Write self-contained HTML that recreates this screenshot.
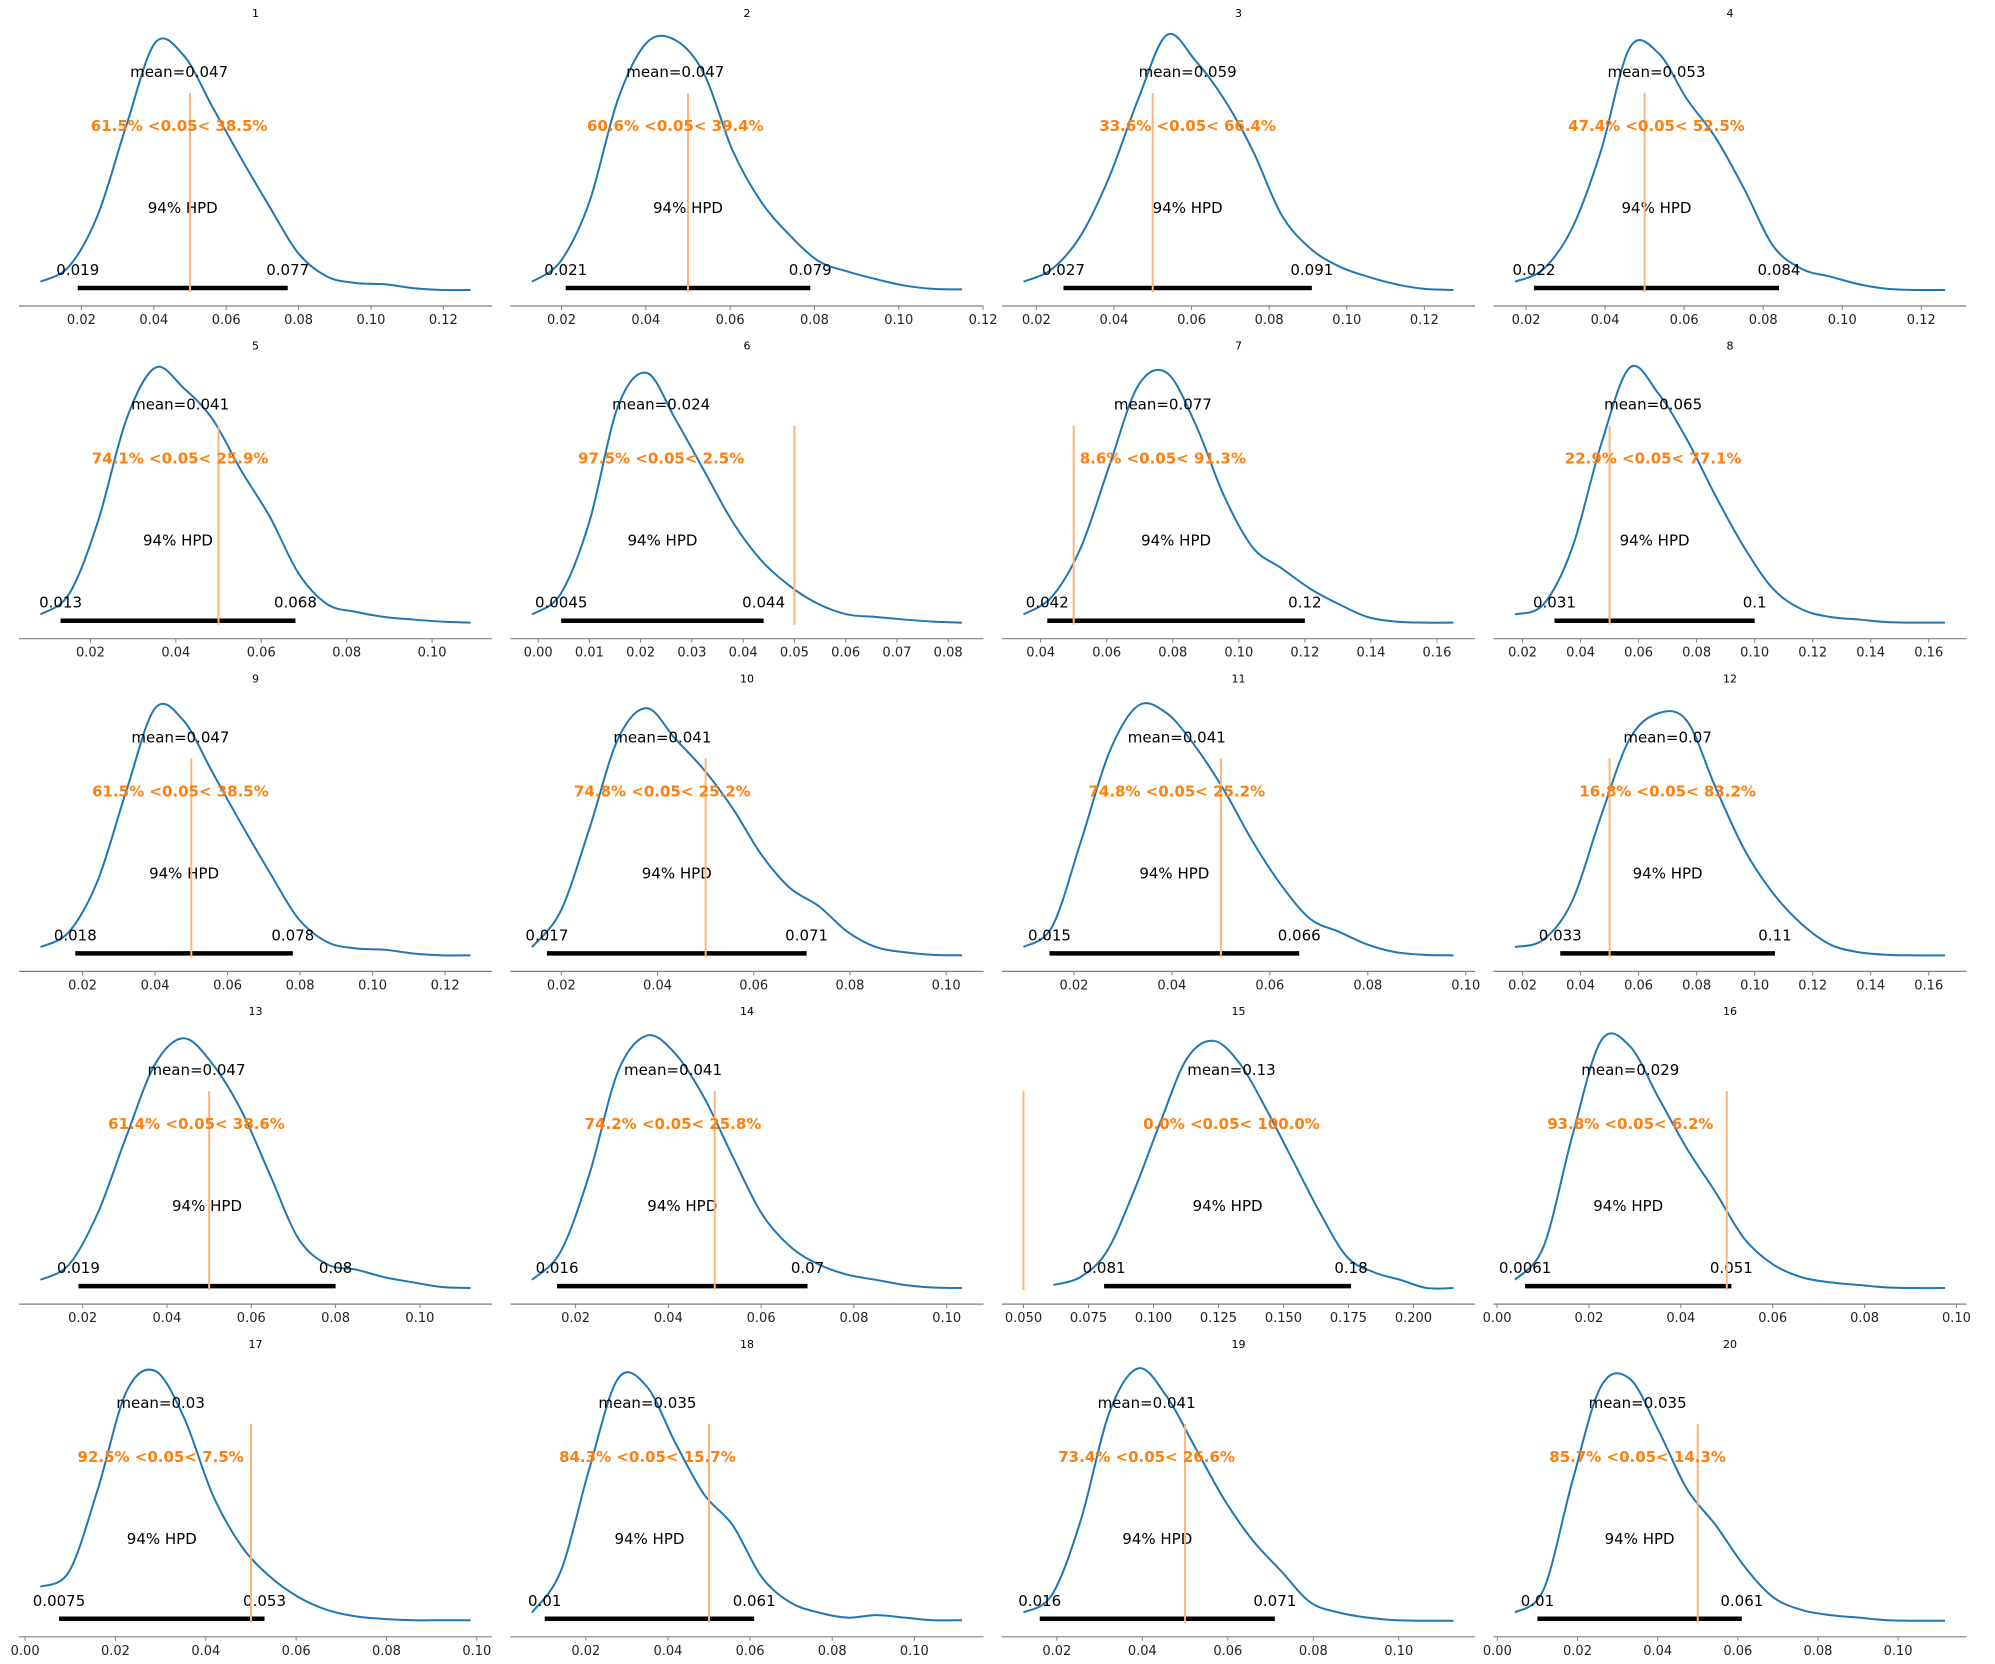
<!DOCTYPE html>
<html><head><meta charset="utf-8">
<style>
html,body{margin:0;padding:0;background:#fff;}
svg{display:block;font-family:"DejaVu Sans","Liberation Sans",sans-serif;}
</style></head>
<body>
<svg id="chart" width="1995" height="1664" viewBox="0 0 1995 1664" xmlns="http://www.w3.org/2000/svg"></svg>
<script>
const titles = ["1","2","3","4","5","6","7","8","9","10","11","12","13","14","15","16","17","18","19","20"];
const curveStart = [0.0087,0.013,0.0167,0.0172,0.0083,-0.0012,0.0348,0.0174,0.0084,0.0139,0.0097,0.0174,0.010,0.0106,0.0615,0.0039,0.0034,0.0069,0.0122,0.0044];
const curveEnd = [0.1275,0.115,0.1275,0.126,0.109,0.0827,0.165,0.1656,0.127,0.1033,0.0975,0.1656,0.112,0.1033,0.2154,0.0975,0.0986,0.1116,0.1128,0.1117];
const densities = [
 [0.04,0.1,0.3,0.65,0.97,0.92,0.72,0.52,0.33,0.15,0.06,0.035,0.03,0.015,0.008,0.008],
 [0.04,0.12,0.35,0.75,0.97,0.98,0.85,0.55,0.35,0.22,0.12,0.08,0.05,0.025,0.012,0.01],
 [0.04,0.09,0.22,0.45,0.75,1.0,0.9,0.75,0.55,0.3,0.17,0.1,0.06,0.03,0.012,0.008],
 [0.04,0.09,0.25,0.55,0.95,0.93,0.75,0.6,0.4,0.18,0.09,0.06,0.03,0.012,0.008,0.008],
 [0.04,0.12,0.4,0.8,1.0,0.92,0.8,0.6,0.42,0.2,0.08,0.05,0.03,0.02,0.012,0.008],
 [0.04,0.12,0.4,0.85,0.98,0.8,0.6,0.4,0.25,0.15,0.08,0.04,0.03,0.02,0.012,0.008],
 [0.04,0.11,0.3,0.62,0.93,0.98,0.78,0.5,0.3,0.22,0.14,0.08,0.03,0.012,0.008,0.008],
 [0.04,0.08,0.3,0.7,1.0,0.9,0.72,0.5,0.3,0.14,0.06,0.03,0.02,0.01,0.008,0.008],
 [0.04,0.1,0.3,0.65,0.97,0.92,0.72,0.52,0.33,0.15,0.06,0.035,0.03,0.015,0.008,0.008],
 [0.04,0.18,0.5,0.85,0.97,0.85,0.73,0.58,0.4,0.27,0.2,0.1,0.04,0.02,0.01,0.008],
 [0.04,0.12,0.45,0.8,0.98,0.95,0.82,0.65,0.45,0.28,0.15,0.1,0.05,0.02,0.01,0.008],
 [0.04,0.07,0.22,0.55,0.85,0.95,0.92,0.66,0.42,0.25,0.13,0.05,0.02,0.01,0.008,0.008],
 [0.04,0.1,0.3,0.6,0.88,0.98,0.88,0.7,0.45,0.2,0.1,0.08,0.05,0.03,0.012,0.008],
 [0.04,0.15,0.45,0.85,0.99,0.92,0.75,0.52,0.3,0.17,0.1,0.06,0.04,0.02,0.01,0.008],
 [0.02,0.05,0.15,0.38,0.65,0.9,0.97,0.88,0.7,0.5,0.3,0.13,0.07,0.04,0.008,0.008],
 [0.04,0.17,0.6,0.97,0.95,0.75,0.55,0.38,0.2,0.1,0.05,0.03,0.02,0.01,0.008,0.008],
 [0.14,0.2,0.52,0.9,0.98,0.8,0.5,0.3,0.18,0.1,0.05,0.025,0.015,0.01,0.01,0.01],
 [0.04,0.2,0.6,0.95,0.92,0.7,0.5,0.38,0.18,0.08,0.04,0.02,0.03,0.02,0.01,0.01],
 [0.04,0.11,0.4,0.82,0.99,0.88,0.68,0.48,0.32,0.2,0.08,0.04,0.02,0.01,0.008,0.008],
 [0.04,0.13,0.55,0.92,0.95,0.75,0.52,0.38,0.22,0.1,0.05,0.03,0.02,0.01,0.008,0.008]
];
const means = [0.047,0.047,0.059,0.053,0.041,0.024,0.077,0.065,0.047,0.041,0.041,0.07,0.047,0.041,0.13,0.029,0.03,0.035,0.041,0.035];
const meanLabels = ["0.047","0.047","0.059","0.053","0.041","0.024","0.077","0.065","0.047","0.041","0.041","0.07","0.047","0.041","0.13","0.029","0.03","0.035","0.041","0.035"];
const pctBelow = ["61.5%","60.6%","33.6%","47.4%","74.1%","97.5%","8.6%","22.9%","61.5%","74.8%","74.8%","16.8%","61.4%","74.2%","0.0%","93.8%","92.5%","84.3%","73.4%","85.7%"];
const pctAbove = ["38.5%","39.4%","66.4%","52.5%","25.9%","2.5%","91.3%","77.1%","38.5%","25.2%","25.2%","83.2%","38.6%","25.8%","100.0%","6.2%","7.5%","15.7%","26.6%","14.3%"];
const hpdLow = [0.019,0.021,0.027,0.022,0.013,0.0045,0.042,0.031,0.018,0.017,0.015,0.033,0.019,0.016,0.081,0.0061,0.0075,0.01,0.016,0.01];
const hpdHigh = [0.077,0.079,0.091,0.084,0.068,0.044,0.12,0.1,0.078,0.071,0.066,0.107,0.08,0.07,0.176,0.051,0.053,0.061,0.071,0.061];
const hpdLowLabels = ["0.019","0.021","0.027","0.022","0.013","0.0045","0.042","0.031","0.018","0.017","0.015","0.033","0.019","0.016","0.081","0.0061","0.0075","0.01","0.016","0.01"];
const hpdHighLabels = ["0.077","0.079","0.091","0.084","0.068","0.044","0.12","0.1","0.078","0.071","0.066","0.11","0.08","0.07","0.18","0.051","0.053","0.061","0.071","0.061"];
const tickSteps = [0.02,0.02,0.02,0.02,0.02,0.01,0.02,0.02,0.02,0.02,0.02,0.02,0.02,0.02,0.025,0.02,0.02,0.02,0.02,0.02];
const refVal = 0.05;

const NS = "http://www.w3.org/2000/svg";
const svg = document.getElementById('chart');
function mk(tag, attrs, parent){const e=document.createElementNS(NS,tag);for(const k in attrs)e.setAttribute(k,attrs[k]);parent.appendChild(e);return e;}
const colW = 491.5, rowH = 332.7, axW = 473, axL0 = 19;
function smooth(pts){
  let d = "M"+pts[0][0].toFixed(2)+","+pts[0][1].toFixed(2);
  for(let i=0;i<pts.length-1;i++){
    const p0=pts[Math.max(0,i-1)],p1=pts[i],p2=pts[i+1],p3=pts[Math.min(pts.length-1,i+2)];
    const c1=[p1[0]+(p2[0]-p0[0])/6,p1[1]+(p2[1]-p0[1])/6];
    const c2=[p2[0]-(p3[0]-p1[0])/6,p2[1]-(p3[1]-p1[1])/6];
    d+=" C"+c1[0].toFixed(2)+","+c1[1].toFixed(2)+" "+c2[0].toFixed(2)+","+c2[1].toFixed(2)+" "+p2[0].toFixed(2)+","+p2[1].toFixed(2);
  }
  return d;
}
for(let p=0;p<titles.length;p++){
  const col=p%4,row=Math.floor(p/4);
  const left=axL0+col*colW, top=row*rowH;
  const g=mk('g',{},svg);
  
  
  const lo=Math.min(curveStart[p],refVal,hpdLow[p]), hi=Math.max(curveEnd[p],refVal,hpdHigh[p]);
  const r=hi-lo, xmin=lo-0.05*r, xmax=hi+0.05*r;
  const X=v=>left+(v-xmin)/(xmax-xmin)*axW;
  const base=top+292, hgt=257;
  const Y=d=>base-d*hgt;
  const t=mk('text',{x:left+axW/2,y:top+17,'text-anchor':'middle','font-size':11,fill:'#000'},g);
  t.textContent=titles[p];
  
  
  const ax=mk('line',{x1:left,x2:left+axW,y1:top+306,y2:top+306,stroke:'#808080','stroke-width':1.2},g);
  
  
  const step=tickSteps[p];
  const dec=(step===0.025)?3:2;
  for(let k=Math.ceil(xmin/step-1e-9);k*step<=xmax+1e-9;k++){
    const v=k*step, x=X(v);
    mk('line',{x1:x,x2:x,y1:top+306,y2:top+310,stroke:'#808080','stroke-width':1},g);
    const tl=mk('text',{x:x,y:top+324,'text-anchor':'middle','font-size':13,fill:'#222'},g);
    tl.textContent=v.toFixed(dec);
    
    
  }
  const dens=densities[p], n=dens.length, pts=[];
  for(let i=0;i<n;i++){const v=curveStart[p]+(curveEnd[p]-curveStart[p])*i/(n-1);pts.push([X(v),Y(dens[i])]);}
  const c=mk('path',{d:smooth(pts),fill:'none',stroke:'#1f77b4','stroke-width':2},g);
  
  
  const hb=mk('line',{x1:X(hpdLow[p]),x2:X(hpdHigh[p]),y1:top+288,y2:top+288,stroke:'#000','stroke-width':4.5},g);
  
  
  const l1=mk('text',{x:X(hpdLow[p]),y:top+275,'text-anchor':'middle','font-size':15,fill:'#000'},g);
  l1.textContent=hpdLowLabels[p];
  
  
  const l2=mk('text',{x:X(hpdHigh[p]),y:top+275,'text-anchor':'middle','font-size':15,fill:'#000'},g);
  l2.textContent=hpdHighLabels[p];
  
  
  const hl=mk('text',{x:X((hpdLow[p]+hpdHigh[p])/2),y:top+213,'text-anchor':'middle','font-size':15,fill:'#000'},g);
  hl.textContent='94% HPD';
  
  
  const rl=mk('line',{x1:X(refVal),x2:X(refVal),y1:top+93,y2:top+292,stroke:'#ffb57a','stroke-width':2},g);
  
  
  const mt=mk('text',{x:X(means[p]),y:top+77,'text-anchor':'middle','font-size':15,fill:'#000'},g);
  mt.textContent='mean='+meanLabels[p];
  
  
  const ot=mk('text',{x:X(means[p]),y:top+131,'text-anchor':'middle','font-size':15,'font-weight':'bold',fill:'#ff7f0e'},g);
  ot.textContent=pctBelow[p]+' <0.05< '+pctAbove[p];
  
  
}
</script>
</body></html>
